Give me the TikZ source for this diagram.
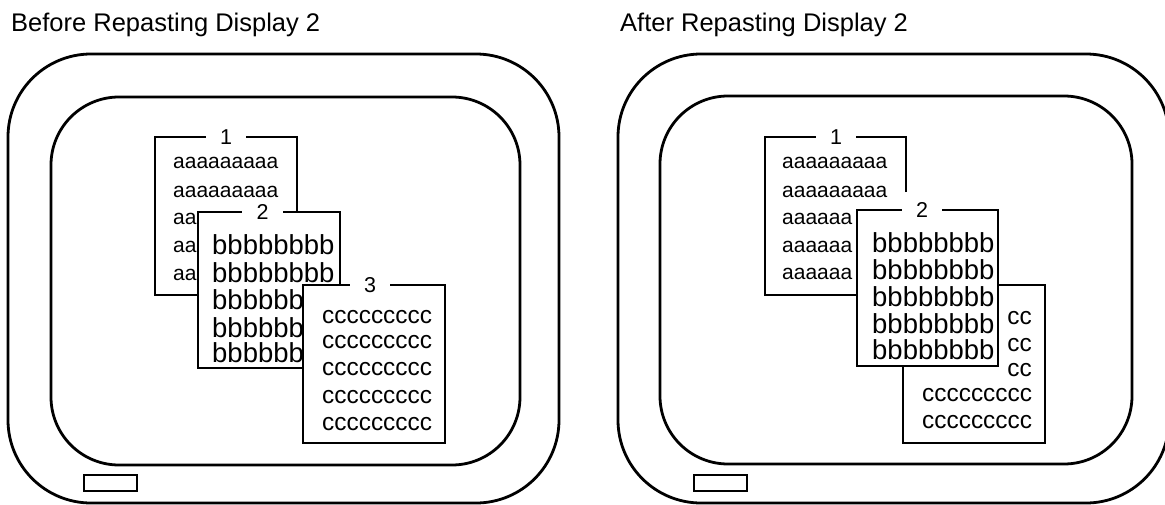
\documentclass[tikz,border=0pt]{standalone}
\usepackage{fontspec}
\setmainfont{Liberation Sans}
\begin{document}
\begin{tikzpicture}[x=1pt,y=-1pt,
  frame/.style={draw, line width=2.8pt},
  win/.style={draw, line width=2.8pt, fill=white, line join=miter},
  lbl/.style={fill=white, inner xsep=14.5pt, inner ysep=0pt, font=\fontsize{21.5}{21}\selectfont},
  atext/.style={anchor=base west, inner sep=0pt, font=\fontsize{21}{21}\selectfont},
  btext/.style={anchor=base west, inner sep=0pt, font=\fontsize{27.5}{27}\selectfont},
  ctext/.style={anchor=base west, inner sep=0pt, font=\fontsize{24.4}{24}\selectfont},
  ctextr/.style={ctext, anchor=base east},
  title/.style={anchor=base west, inner sep=0pt, font=\fontsize{25.5}{30}\selectfont}]
\useasboundingbox (0,0) rectangle (1165,504);
\clip (0,0) rectangle (1165,504);

% ---------------- Left panel ----------------
\node[title] (t1) at (11,31) {Before Repasting Display 2};
\draw[frame, rounded corners=83pt] (8,54) rectangle (559,503);
\draw[frame, rounded corners=68pt] (51,97) rectangle (520,465);
\draw[frame, line width=2.4pt] (84,475) rectangle (137,491);

% window 1
\draw[win] (155,137) rectangle (297,295);
\node[lbl] (L1) at (226,137) {1};
\node[atext] (La1) at (173,168.5) {aaaaaaaaa};
\node[atext] (La2) at (173,197) {aaaaaaaaa};
\node[atext] (La3) at (173,224.5) {aa};
\node[atext] (La4) at (173,252.5) {aa};
\node[atext] (La5) at (173,280.5) {aa};

% window 2
\draw[win] (198,212) rectangle (340,368);
\node[lbl] (L2) at (262.5,212) {2};
\node[btext] (Lb1) at (212,254.5) {bbbbbbbb};
\node[btext] (Lb2) at (212,282) {bbbbbbbb};
\node[btext] (Lb3) at (212,309) {bbbbbb};
\node[btext] (Lb4) at (212,337) {bbbbbb};
\node[btext] (Lb5) at (212,362.5) {bbbbbb};

% window 3
\draw[win] (303,285) rectangle (445,443);
\node[lbl] (L3) at (370,285) {3};
\node[ctext] (Lc1) at (322,323) {ccccccccc};
\node[ctext] (Lc2) at (322,348.5) {ccccccccc};
\node[ctext] (Lc3) at (322,375) {ccccccccc};
\node[ctext] (Lc4) at (322,403) {ccccccccc};
\node[ctext] (Lc5) at (322,430) {ccccccccc};

% ---------------- Right panel ----------------
\node[title] (t2) at (620,31) {After Repasting Display 2};
\draw[frame, rounded corners=83pt] (618,54) rectangle (1169,503);
\draw[frame, rounded corners=68pt] (660,96) rectangle (1132,464);
\draw[frame, line width=2.4pt] (694,475) rectangle (747,491);

% window 1
\fill[white] (765,137) rectangle (906,295);
\draw[line width=2.8pt, line join=miter] (906,192) -- (906,137) -- (765,137) -- (765,295) -- (906,295);
\node[lbl] (R1) at (836,137) {1};
\node[atext] (Ra1) at (782,168.5) {aaaaaaaaa};
\node[atext] (Ra2) at (782,197) {aaaaaaaaa};
\node[atext] (Ra3) at (782,224) {aaaaaa};
\node[atext] (Ra4) at (782,252.5) {aaaaaa};
\node[atext] (Ra5) at (782,279) {aaaaaa};

% window 3 (behind 2)
\draw[win] (903,285) rectangle (1045,443);
\node[ctextr] (Rc1) at (1032,324) {cc};
\node[ctextr] (Rc2) at (1032,351) {cc};
\node[ctextr] (Rc3) at (1032,376) {cc};
\node[ctext] (Rc4) at (922,401) {ccccccccc};
\node[ctext] (Rc5) at (922,428) {ccccccccc};

% window 2 (on top)
\draw[win] (857,210) rectangle (998,366);
\node[lbl] (R2) at (922,210) {2};
\node[btext] (Rb1) at (872,252) {bbbbbbbb};
\node[btext] (Rb2) at (872,279) {bbbbbbbb};
\node[btext] (Rb3) at (872,306) {bbbbbbbb};
\node[btext] (Rb4) at (872,333) {bbbbbbbb};
\node[btext] (Rb5) at (872,359) {bbbbbbbb};
\end{tikzpicture}
\end{document}
